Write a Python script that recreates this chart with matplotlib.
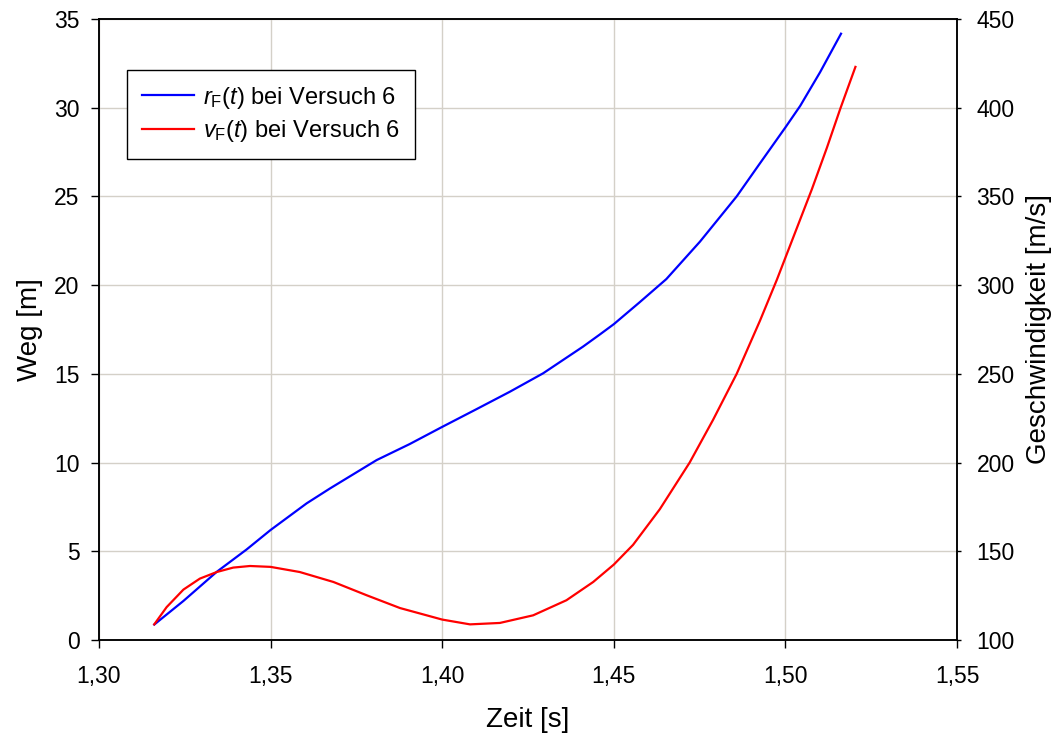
import matplotlib
matplotlib.use("Agg")
import matplotlib.pyplot as plt
from matplotlib.ticker import FuncFormatter, MultipleLocator

plt.rcParams["font.family"] = ["Liberation Sans", "DejaVu Sans"]
plt.rcParams["mathtext.fontset"] = "custom"
plt.rcParams["mathtext.rm"] = "Liberation Sans"
plt.rcParams["mathtext.it"] = "Liberation Sans:italic"

# Weg r_F(t) [m] over Zeit [s]
t_r = [1.3161, 1.3246, 1.3343, 1.343, 1.35, 1.3605, 1.3673, 1.3809, 1.3905,
       1.40, 1.4099, 1.4197, 1.4294, 1.441, 1.4458, 1.45, 1.4575, 1.4653,
       1.4751, 1.4858, 1.4926, 1.50, 1.5043, 1.5101, 1.5162]
r_F = [0.87, 2.20, 3.84, 5.10, 6.20, 7.70, 8.54, 10.14, 11.04,
       12.01, 13.00, 13.99, 15.03, 16.53, 17.20, 17.80, 19.03, 20.34,
       22.45, 25.00, 26.87, 28.89, 30.10, 32.00, 34.17]

# Geschwindigkeit v_F(t) [m/s] over Zeit [s]
t_v = [1.3161, 1.3197, 1.3246, 1.3294, 1.3343, 1.3391, 1.344, 1.35, 1.3585,
       1.3683, 1.378, 1.3877, 1.40, 1.4081, 1.4168, 1.4265, 1.4362, 1.444,
       1.45, 1.4556, 1.4634, 1.4721, 1.4789, 1.4858, 1.4926, 1.4975, 1.50,
       1.5033, 1.5077, 1.5121, 1.5160, 1.5204]
v_F = [108.8, 118.5, 128.4, 134.6, 138.3, 140.8, 141.7, 141.2, 138.3,
       132.7, 125.2, 118.0, 111.5, 108.8, 109.6, 113.9, 122.4, 132.7,
       142.5, 153.6, 173.7, 200.0, 224.0, 250.0, 280.0, 303.0, 315.5,
       332.0, 354.0, 377.5, 399.5, 423.0]

fig = plt.figure(figsize=(10.61, 7.33), dpi=100)
ax = fig.add_axes([0.0933, 0.1269, 0.8087, 0.8472])
ax2 = ax.twinx()

grid_col = "#d4d0c8"
ax.set_xlim(1.30, 1.55)
ax.set_ylim(0, 35)
ax2.set_ylim(100, 450)
ax.xaxis.set_major_locator(MultipleLocator(0.05))
ax.yaxis.set_major_locator(MultipleLocator(5))
ax2.yaxis.set_major_locator(MultipleLocator(50))
ax.xaxis.set_major_formatter(FuncFormatter(lambda x, p: f"{x:.2f}".replace(".", ",")))
ax.grid(True, color=grid_col, linewidth=1.0)
ax.set_axisbelow(True)

l1, = ax.plot(t_r, r_F, color="#0000ff", linewidth=1.6, solid_joinstyle="round")
l2, = ax2.plot(t_v, v_F, color="#ff0000", linewidth=1.6, solid_joinstyle="round")

for a in (ax, ax2):
    for s in a.spines.values():
        s.set_linewidth(1.1)
        s.set_color("black")
ax.tick_params(axis="both", which="major", direction="out", length=6,
               width=1.0, labelsize=16.5, top=False, right=False)
ax.tick_params(axis="x", pad=12)
ax.tick_params(axis="y", pad=8)
ax2.tick_params(axis="y", direction="out", length=3, width=1.0,
                labelsize=16.5, pad=11)

ax.set_xlabel("Zeit [s]", fontsize=20, labelpad=14)
ax.set_ylabel("Weg [m]", fontsize=20, labelpad=8)
ax2.set_ylabel("Geschwindigkeit [m/s]", fontsize=20, labelpad=8)

leg = ax.legend([l1, l2],
                [r"$\mathit{r}_{\mathrm{F}}\mathit{(t)}$ bei Versuch 6",
                 r"$\mathit{v}_{\mathrm{F}}\mathit{(t)}$ bei Versuch 6"],
                loc="upper left", bbox_to_anchor=(0.0326, 0.918),
                fontsize=17, frameon=True, fancybox=False, framealpha=1,
                edgecolor="black", handlelength=2.2, borderpad=0.62,
                labelspacing=0.32, handletextpad=0.4, borderaxespad=0)
leg.get_frame().set_linewidth(1.0)
leg.set_zorder(10)

fig.savefig("out.png", dpi=100)
